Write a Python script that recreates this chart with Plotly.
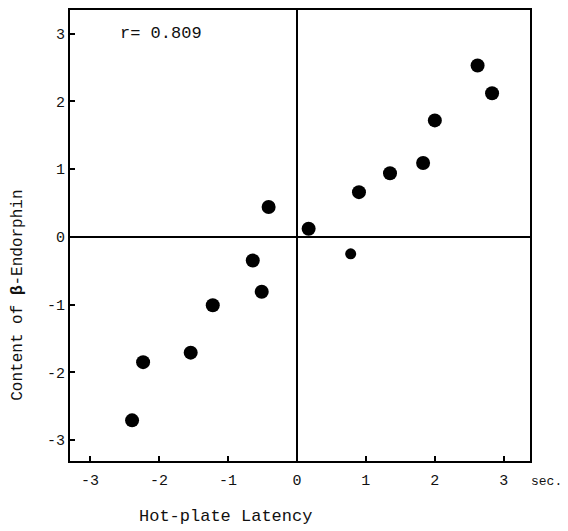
import plotly.graph_objects as go

# Data
latency = [-0.41, -0.64, -0.51, -1.22, -1.54, -2.23, -2.39, 0.17, 0.90, 1.35, 1.83, 2.00, 2.62, 2.83]
endorphin = [0.44, -0.35, -0.81, -1.01, -1.71, -1.85, -2.71, 0.12, 0.66, 0.94, 1.09, 1.72, 2.53, 2.12]
small_latency = [0.78]
small_endorphin = [-0.25]
tick_vals = [-3, -2, -1, 0, 1, 2, 3]
tick_text = ["-3", "-2", "-1", "0", "1", "2", "3"]
r_text = "r= 0.809"

FONT = "Liberation Mono, Courier New, monospace"
INK = "#111111"

W, H = 560, 523          # page body has an 8px margin inside the 568x531 window
ML, MR, MT, MB = 62, 38, 0, 70
PW, PH = W - ML - MR, H - MT - MB


def px_to_paper(px, py):
    # px, py are window pixel coordinates of the reference
    fx, fy = px - 8, py - 8
    return (fx - ML) / PW, (H - MB - fy) / PH


fig = go.Figure()
fig.add_trace(go.Scatter(x=latency, y=endorphin, mode="markers",
                         marker=dict(size=14, color="black", line=dict(width=0)),
                         showlegend=False, hoverinfo="x+y"))
fig.add_trace(go.Scatter(x=small_latency, y=small_endorphin, mode="markers",
                         marker=dict(size=11, color="black", line=dict(width=0)),
                         showlegend=False, hoverinfo="x+y"))

axis_common = dict(showgrid=False, zeroline=True, zerolinecolor="black", zerolinewidth=1.5,
                   showline=True, linecolor="black", linewidth=2, mirror=True,
                   ticks="inside", ticklen=5, tickwidth=2, tickcolor="black",
                   tickvals=tick_vals, ticktext=tick_text,
                   tickfont=dict(family=FONT, size=15, color=INK))

fig.update_xaxes(range=[-3.29, 3.38], ticklabelstandoff=4, **axis_common)
fig.update_yaxes(range=[-3.31, 3.35], **axis_common)

fig.add_annotation(x=-2.6, y=3.0, xref="x", yref="y", text=r_text, showarrow=False,
                   xanchor="left", yanchor="middle", font=dict(family=FONT, size=17, color=INK))

sx, sy = px_to_paper(563, 482)
fig.add_annotation(x=sx, y=sy, xref="paper", yref="paper", text="sec.", showarrow=False,
                   xanchor="right", yanchor="middle", borderpad=0,
                   font=dict(family=FONT, size=13, color=INK))

tx, ty = px_to_paper(225, 517)
fig.add_annotation(x=tx, y=ty, xref="paper", yref="paper",
                   text="Hot-plate Latency", showarrow=False, xanchor="center", yanchor="middle",
                   font=dict(family=FONT, size=17, color=INK))

yx, yy = px_to_paper(18, 295)
fig.add_annotation(x=yx, y=yy, xref="paper", yref="paper",
                   text="Content of <b>β</b>-Endorphin", textangle=-90, showarrow=False,
                   xanchor="center", yanchor="middle", borderpad=0,
                   font=dict(family=FONT, size=16, color=INK))

fig.update_layout(width=W, height=H, margin=dict(l=ML, r=MR, t=MT, b=MB),
                  plot_bgcolor="white", paper_bgcolor="white", showlegend=False)

fig.write_html("out.html")
